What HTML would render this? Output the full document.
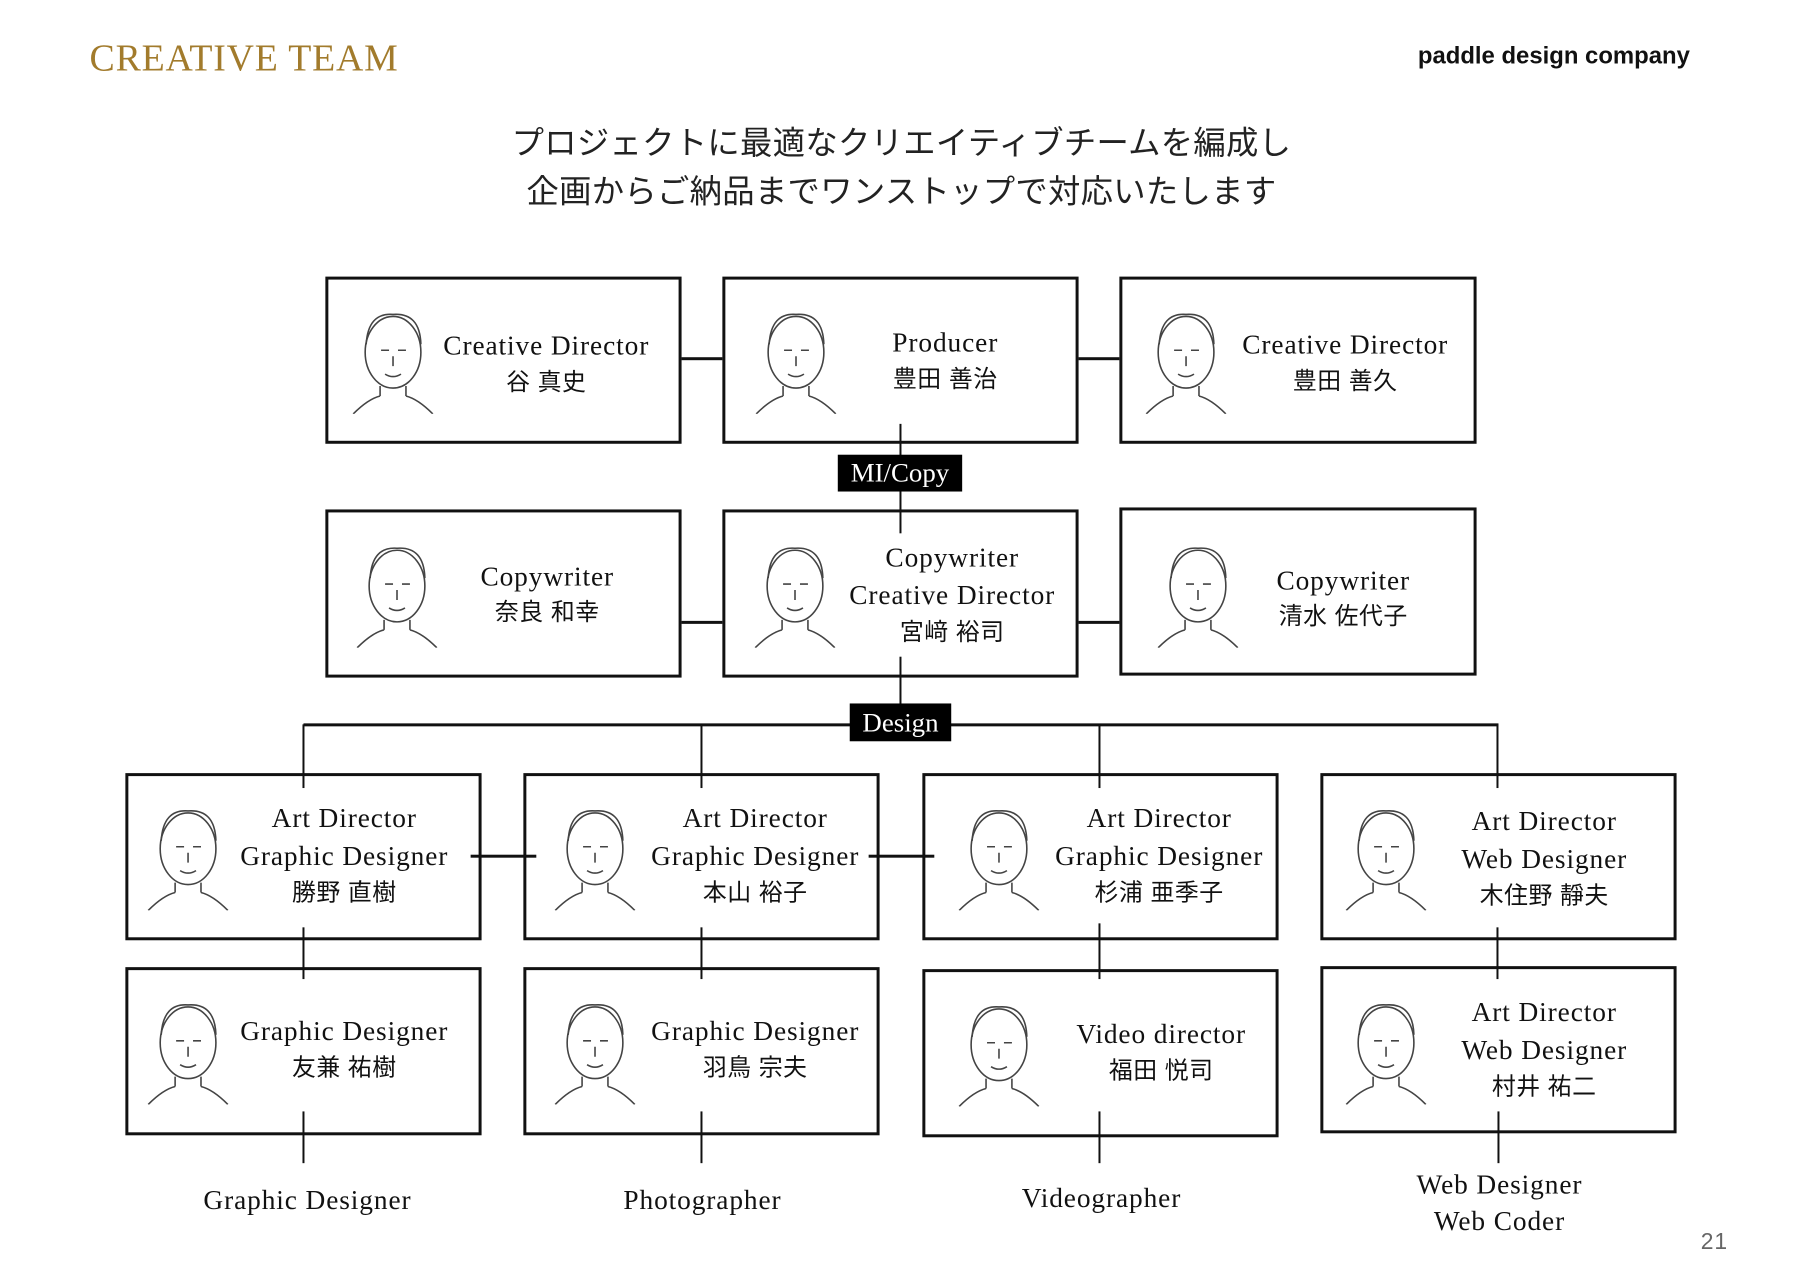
<!DOCTYPE html>
<html><head><meta charset="utf-8"><style>
body{margin:0;width:1800px;height:1272px;background:#fff;position:relative;overflow:hidden;font-family:"Liberation Serif","Noto Serif CJK SC",serif;color:#111}
#w{position:absolute;left:0;top:0;width:1800px;height:1272px;transform:scale(0.995);transform-origin:0 0}
.a{position:absolute}
.box{position:absolute;border:3px solid #111;box-sizing:border-box;background:#fff}
.l{position:absolute;background:#111}
.t{position:absolute;transform:translate(-50%,-50%);white-space:nowrap;font-size:27.5px;letter-spacing:0.9px;line-height:1}
.j{font-family:"Liberation Sans","Noto Sans CJK JP",sans-serif;font-size:24px;letter-spacing:0.5px}
.tag{position:absolute;background:#000;color:#fff;font-size:27px;text-align:center;line-height:1}
.f{position:absolute;transform:translate(-50%,-50%)}
</style></head><body><div id="w">
<div class="a" style="left:90px;top:37px;font-size:38px;color:#a27b2c;letter-spacing:0.8px">CREATIVE TEAM</div>
<div class="a" style="left:1425px;top:43px;font-family:'Liberation Sans',sans-serif;font-weight:bold;font-size:24px">paddle design company</div>
<div class="t" style="left:906px;top:144px;font-family:'Liberation Sans','Noto Sans CJK JP',sans-serif;font-size:32.5px;letter-spacing:0.3px;color:#222">プロジェクトに最適なクリエイティブチームを編成し</div>
<div class="t" style="left:906px;top:193px;font-family:'Liberation Sans','Noto Sans CJK JP',sans-serif;font-size:32.5px;letter-spacing:0.3px;color:#222">企画からご納品までワンストップで対応いたします</div>

<div class="l" style="left:673px;top:359px;width:66px;height:3px"></div>
<div class="l" style="left:1073px;top:359px;width:66px;height:3px"></div>
<div class="l" style="left:673px;top:624px;width:66px;height:3px"></div>
<div class="l" style="left:1075px;top:624px;width:66px;height:3px"></div>
<div class="l" style="left:305px;top:727px;width:1201px;height:3px"></div>

<div class="box" style="left:327px;top:278px;width:358px;height:168px"></div>
<div class="box" style="left:726px;top:278px;width:358px;height:168px"></div>
<div class="box" style="left:1125px;top:278px;width:359px;height:168px"></div>
<div class="box" style="left:327px;top:512px;width:358px;height:169px"></div>
<div class="box" style="left:726px;top:512px;width:358px;height:169px"></div>
<div class="box" style="left:1125px;top:510px;width:359px;height:169px"></div>
<div class="box" style="left:126px;top:777px;width:358px;height:168px"></div>
<div class="box" style="left:526px;top:777px;width:358px;height:168px"></div>
<div class="box" style="left:927px;top:777px;width:358px;height:168px"></div>
<div class="box" style="left:1327px;top:777px;width:358px;height:168px"></div>
<div class="box" style="left:126px;top:972px;width:358px;height:169px"></div>
<div class="box" style="left:526px;top:972px;width:358px;height:169px"></div>
<div class="box" style="left:927px;top:974px;width:358px;height:169px"></div>
<div class="box" style="left:1327px;top:971px;width:358px;height:168px"></div>

<div class="l" style="left:904px;top:426px;width:2px;height:110px"></div>
<div class="l" style="left:904px;top:660px;width:2px;height:50px"></div>
<div class="l" style="left:304px;top:728px;width:2px;height:64px"></div>
<div class="l" style="left:704px;top:728px;width:2px;height:64px"></div>
<div class="l" style="left:1104px;top:728px;width:2px;height:64px"></div>
<div class="l" style="left:1504px;top:728px;width:2px;height:64px"></div>
<div class="l" style="left:473px;top:859px;width:66px;height:3px"></div>
<div class="l" style="left:873px;top:859px;width:66px;height:3px"></div>
<div class="l" style="left:304px;top:932px;width:2px;height:52px"></div>
<div class="l" style="left:704px;top:932px;width:2px;height:52px"></div>
<div class="l" style="left:1104px;top:928px;width:2px;height:56px"></div>
<div class="l" style="left:1504px;top:932px;width:2px;height:52px"></div>
<div class="l" style="left:304px;top:1117px;width:2px;height:52px"></div>
<div class="l" style="left:704px;top:1117px;width:2px;height:52px"></div>
<div class="l" style="left:1104px;top:1117px;width:2px;height:52px"></div>
<div class="l" style="left:1505px;top:1117px;width:2px;height:52px"></div>

<div class="tag" style="left:842px;top:457px;width:125px;height:37px;line-height:37px">MI/Copy</div>
<div class="tag" style="left:854px;top:707px;width:102px;height:38px;line-height:38px">Design</div>

<svg width="0" height="0" style="position:absolute"><defs><g id="fc" fill="none" stroke="#444" stroke-width="1.6"><ellipse cx="45" cy="48" rx="28" ry="36"/><path d="M18 40 Q20 8 45 10 Q72 8 73 40"/><path d="M33 46 h8 M50 46 h8 M45 52 v10 M37 70 q8 5 16 0"/><path d="M32 82 v10 M58 82 v10 M5 110 q15 -15 27 -18 M85 110 q-15 -15 -27 -18"/></g></defs></svg>
<svg class="f" style="left:395px;top:361px" width="90" height="110"><use href="#fc"/></svg>
<svg class="f" style="left:800px;top:361px" width="90" height="110"><use href="#fc"/></svg>
<svg class="f" style="left:1192px;top:361px" width="90" height="110"><use href="#fc"/></svg>
<svg class="f" style="left:399px;top:596px" width="90" height="110"><use href="#fc"/></svg>
<svg class="f" style="left:799px;top:596px" width="90" height="110"><use href="#fc"/></svg>
<svg class="f" style="left:1204px;top:596px" width="90" height="110"><use href="#fc"/></svg>
<svg class="f" style="left:189px;top:860px" width="90" height="110"><use href="#fc"/></svg>
<svg class="f" style="left:598px;top:860px" width="90" height="110"><use href="#fc"/></svg>
<svg class="f" style="left:1004px;top:860px" width="90" height="110"><use href="#fc"/></svg>
<svg class="f" style="left:1393px;top:860px" width="90" height="110"><use href="#fc"/></svg>
<svg class="f" style="left:189px;top:1055px" width="90" height="110"><use href="#fc"/></svg>
<svg class="f" style="left:598px;top:1055px" width="90" height="110"><use href="#fc"/></svg>
<svg class="f" style="left:1004px;top:1057px" width="90" height="110"><use href="#fc"/></svg>
<svg class="f" style="left:1393px;top:1055px" width="90" height="110"><use href="#fc"/></svg>

<div class="t" style="left:549px;top:347px">Creative Director</div><div class="t j" style="left:549px;top:385px">谷 真史</div>
<div class="t" style="left:950px;top:344px">Producer</div><div class="t j" style="left:950px;top:382px">豊田 善治</div>
<div class="t" style="left:1352px;top:346px">Creative Director</div><div class="t j" style="left:1352px;top:384px">豊田 善久</div>

<div class="t" style="left:550px;top:579px">Copywriter</div><div class="t j" style="left:550px;top:616px">奈良 和幸</div>
<div class="t" style="left:957px;top:560px">Copywriter</div><div class="t" style="left:957px;top:598px">Creative Director</div><div class="t j" style="left:957px;top:636px">宮﨑 裕司</div>
<div class="t" style="left:1350px;top:583px">Copywriter</div><div class="t j" style="left:1350px;top:620px">清水 佐代子</div>

<div class="t" style="left:346px;top:822px">Art Director</div><div class="t" style="left:346px;top:860px">Graphic Designer</div><div class="t j" style="left:346px;top:898px">勝野 直樹</div>
<div class="t" style="left:759px;top:822px">Art Director</div><div class="t" style="left:759px;top:860px">Graphic Designer</div><div class="t j" style="left:759px;top:898px">本山 裕子</div>
<div class="t" style="left:1165px;top:822px">Art Director</div><div class="t" style="left:1165px;top:860px">Graphic Designer</div><div class="t j" style="left:1165px;top:898px">杉浦 亜季子</div>
<div class="t" style="left:1552px;top:825px">Art Director</div><div class="t" style="left:1552px;top:863px">Web Designer</div><div class="t j" style="left:1552px;top:901px">木住野 靜夫</div>

<div class="t" style="left:346px;top:1036px">Graphic Designer</div><div class="t j" style="left:346px;top:1074px">友兼 祐樹</div>
<div class="t" style="left:759px;top:1036px">Graphic Designer</div><div class="t j" style="left:759px;top:1074px">羽鳥 宗夫</div>
<div class="t" style="left:1167px;top:1039px">Video director</div><div class="t j" style="left:1167px;top:1077px">福田 悦司</div>
<div class="t" style="left:1552px;top:1017px">Art Director</div><div class="t" style="left:1552px;top:1055px">Web Designer</div><div class="t j" style="left:1552px;top:1093px">村井 祐二</div>

<div class="t" style="left:309px;top:1206px">Graphic Designer</div>
<div class="t" style="left:706px;top:1206px">Photographer</div>
<div class="t" style="left:1107px;top:1204px">Videographer</div>
<div class="t" style="left:1507px;top:1190px">Web Designer</div>
<div class="t" style="left:1507px;top:1227px">Web Coder</div>
<div class="t" style="left:1723px;top:1248px;font-family:'Liberation Sans',sans-serif;font-size:23px;color:#666">21</div>
</div></body></html>
